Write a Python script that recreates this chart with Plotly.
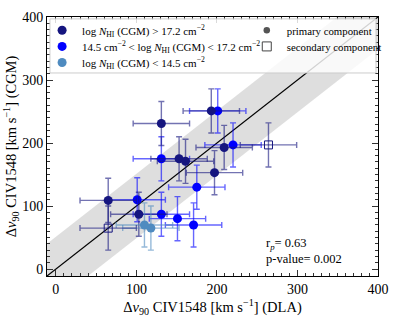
import plotly.graph_objects as go

# ---------------- data ----------------
# primary components, log N_HI(CGM) > 17.2
hi_x = [131, 193, 209, 153, 161, 197, 65, 103]
hi_y = [231, 251, 193, 175, 171, 153, 109, 87]
hi_xerr = [35, 35, 35, 35, 35, 35, 35, 35]
hi_yerr = [35, 35, 35, 35, 35, 35, 35, 35]

# primary components, 14.5 < log N_HI(CGM) < 17.2
mid_x = [201, 220, 131, 175, 101, 131, 151, 171]
mid_y = [251, 197, 175, 130, 110, 87, 80, 70]
mid_xerr = [35, 35, 35, 35, 35, 35, 35, 35]
mid_yerr = [35, 35, 35, 35, 35, 35, 35, 35]

# primary components, log N_HI(CGM) < 14.5
lo_x = [110, 118]
lo_y = [70, 65]
lo_xerr = [35, 35]
lo_yerr = [35, 35]

# secondary components (open squares)
sec_x = [264, 65]
sec_y = [197, 65]
sec_xerr = [35, 35]
sec_yerr = [35, 35]

axis_range = [-11, 400]
tick_vals = [0, 100, 200, 300, 400]
band_halfwidth = 51
r_p = 0.63
p_value = 0.002

legend_labels = [
    "log <i>N</i><sub>HI</sub> (CGM) > 17.2 cm<sup>−2</sup>",
    "14.5 cm<sup>−2</sup> < log <i>N</i><sub>HI</sub> (CGM) < 17.2 cm<sup>−2</sup>",
    "log <i>N</i><sub>HI</sub> (CGM) < 14.5 cm<sup>−2</sup>",
    "primary component",
    "secondary component",
]

# ---------------- styling ----------------
C_HI = "#15157f"
C_MID = "#0000ff"
C_LO = "#4f8bc0"
FONT = "Liberation Serif"


def rgba(hex_color, a):
    h = hex_color.lstrip("#")
    r, g, b = int(h[0:2], 16), int(h[2:4], 16), int(h[4:6], 16)
    return f"rgba({r},{g},{b},{a})"


fig = go.Figure()

# shaded band around the 1:1 line
lo_r, hi_r = axis_range[0] - 100, axis_range[1] + 100
fig.add_trace(go.Scatter(
    x=[lo_r, hi_r, hi_r, lo_r],
    y=[lo_r + band_halfwidth, hi_r + band_halfwidth, hi_r - band_halfwidth, lo_r - band_halfwidth],
    fill="toself", fillcolor="rgba(200,200,200,0.6)", line=dict(width=0),
    mode="lines", hoverinfo="skip", showlegend=False))

# 1:1 line
fig.add_trace(go.Scatter(x=[lo_r, hi_r], y=[lo_r, hi_r], mode="lines",
                         line=dict(color="black", width=1.2),
                         hoverinfo="skip", showlegend=False))


def add_points(x, y, xe, ye, color, symbol, size, lw=0):
    fig.add_trace(go.Scatter(
        x=x, y=y, mode="markers",
        error_x=dict(type="data", array=xe, color=rgba(color, 0.6), thickness=1.4, width=3),
        error_y=dict(type="data", array=ye, color=rgba(color, 0.6), thickness=1.4, width=3),
        marker=dict(color=color, symbol=symbol, size=size,
                    line=dict(color=color, width=lw)),
        showlegend=False))


add_points(mid_x, mid_y, mid_xerr, mid_yerr, C_MID, "circle", 9)
add_points(hi_x, hi_y, hi_xerr, hi_yerr, C_HI, "circle", 9)
add_points(lo_x, lo_y, lo_xerr, lo_yerr, C_LO, "circle", 9)
add_points(sec_x, sec_y, sec_xerr, sec_yerr, C_HI, "square-open", 8, lw=1)

# legend entries (legend-only traces), one legend per row for exact placement
legend_markers = [
    dict(color=C_HI, size=9),
    dict(color=C_MID, size=9),
    dict(color=C_LO, size=9),
    dict(color="#555555", size=6.5),
    dict(color="#444444", symbol="square-open", size=9, line=dict(color="#444444", width=1)),
]
legend_ids = ["legend", "legend2", "legend3", "legend4", "legend5"]
for lab, mk, lid in zip(legend_labels, legend_markers, legend_ids):
    fig.add_trace(go.Scatter(x=[None], y=[None], mode="markers", marker=mk,
                             name=lab, legend=lid))


# plot area in pixels: left 45, right 383, top 10, bottom 283
def px_x(p):
    return (p - 45) / 338.0


def px_y(p):
    return (283 - p) / 273.0


legend_pos = [(40, 24), (40, 41), (40, 58), (249, 24), (249, 41)]
legend_fs = [11, 11, 11, 10.8, 10.8]
legend_layout = {}
for lid, (lx, ly), fs in zip(legend_ids, legend_pos, legend_fs):
    legend_layout[lid] = dict(x=px_x(lx), y=px_y(ly), xanchor="left", yanchor="middle",
                              bgcolor="rgba(0,0,0,0)", borderwidth=0, itemwidth=30,
                              font=dict(family=FONT, size=fs, color="black"))

axis_common = dict(
    range=axis_range, tickvals=tick_vals, ticks="inside", ticklen=6, tickwidth=1,
    tickcolor="#333333", showline=True, linecolor="black", linewidth=1, mirror="allticks",
    showgrid=False, zeroline=False,
    tickfont=dict(family=FONT, size=14, color="black"),
    minor=dict(dtick=10, ticks="inside", ticklen=3, tickcolor="#333333", showgrid=False),
)

fig.update_layout(
    width=399, height=321,
    margin=dict(l=45, r=16, t=10, b=38),
    plot_bgcolor="white", paper_bgcolor="white",
    font=dict(family=FONT, color="black"),
    xaxis=dict(axis_common,
               title=dict(text="Δ<i>v</i><sub>90</sub> CIV1548 [km s<sup>−1</sup>] (DLA)",
                          font=dict(family=FONT, size=14.5), standoff=4)),
    yaxis=dict(axis_common,
               title=dict(text="Δ<i>v</i><sub>90</sub> CIV1548 [km s<sup>−1</sup>] (CGM)",
                          font=dict(family=FONT, size=14.5), standoff=2)),
    shapes=[dict(type="rect", xref="paper", yref="paper", x0=px_x(48), x1=px_x(381),
                 y0=px_y(69), y1=px_y(12), fillcolor="rgba(255,255,255,0.82)",
                 line=dict(color="#cccccc", width=1), layer="above")],
    annotations=[dict(xref="paper", yref="paper", x=px_x(267), y=px_y(239), xanchor="left",
                      yanchor="top", align="left", showarrow=False,
                      text=f"r<sub><i>p</i></sub>= {r_p}<br>p-value= {p_value}",
                      font=dict(family=FONT, size=12.5, color="black"))],
    **legend_layout,
)

fig.write_html("out.html", config={"displayModeBar": False},
               post_script="document.body.style.margin='0';document.body.style.overflow='hidden';")
